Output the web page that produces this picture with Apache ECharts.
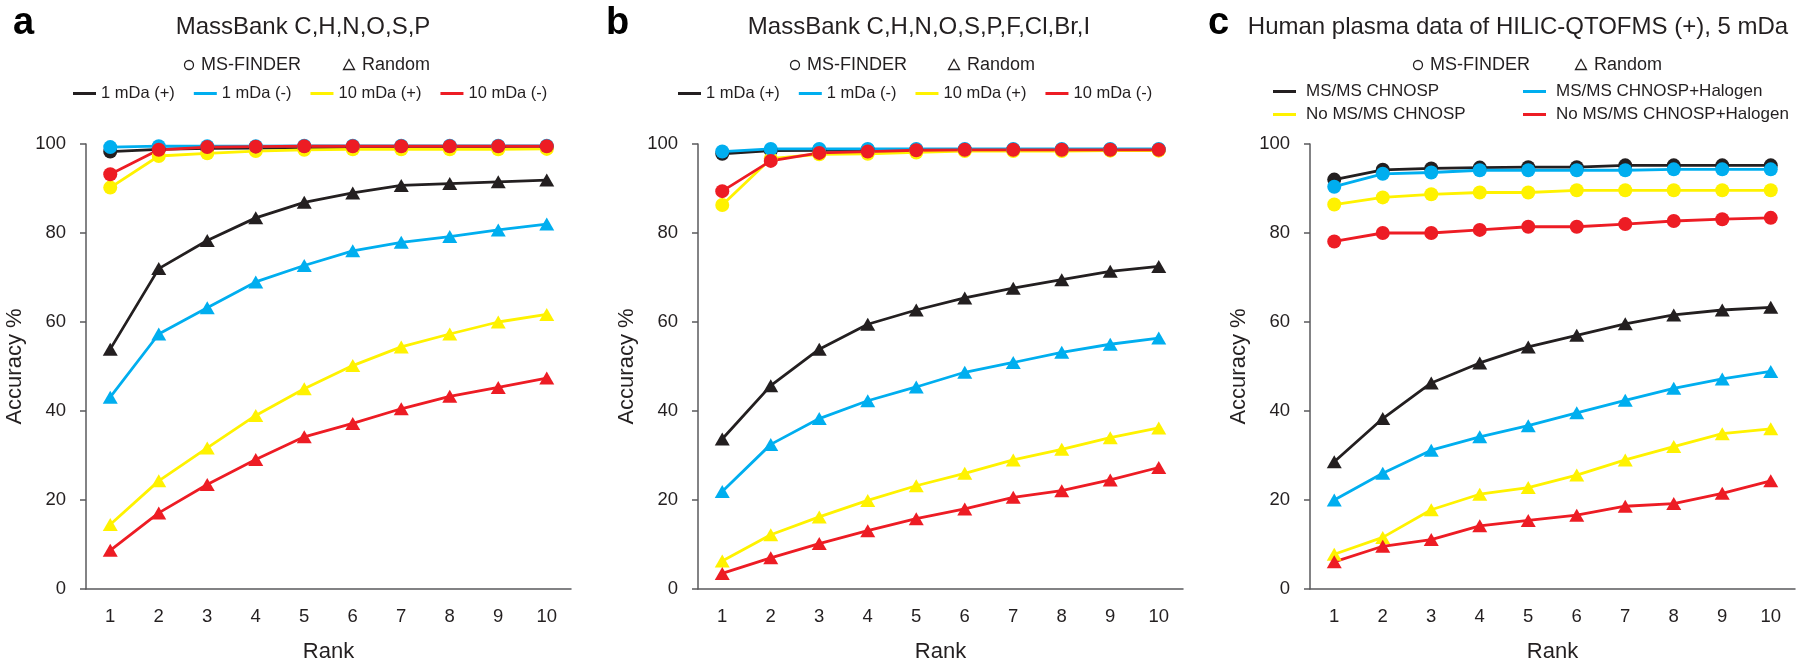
<!DOCTYPE html>
<html>
<head>
<meta charset="utf-8">
<script src="https://cdn.jsdelivr.net/npm/echarts@6/dist/echarts.min.js"></script>
<style>
  html, body { margin: 0; padding: 0; background: #ffffff; }
  #chart { width: 1800px; height: 668px; }
</style>
</head>
<body>
<div id="chart"></div>
<script>
// ---------- data ----------
const ranks = ['1', '2', '3', '4', '5', '6', '7', '8', '9', '10'];

// Panel a: MassBank C,H,N,O,S,P
const aFinder1mDaPos  = [98.3, 98.8, 99.0, 99.1, 99.2, 99.2, 99.3, 99.3, 99.3, 99.3];
const aFinder1mDaNeg  = [99.3, 99.5, 99.5, 99.5, 99.6, 99.6, 99.6, 99.6, 99.6, 99.6];
const aFinder10mDaPos = [90.2, 97.3, 97.9, 98.4, 98.7, 98.8, 98.8, 98.8, 98.8, 98.9];
const aFinder10mDaNeg = [93.2, 98.7, 99.3, 99.4, 99.5, 99.5, 99.5, 99.5, 99.5, 99.5];
const aRandom1mDaPos  = [53.9, 72.0, 78.3, 83.4, 86.9, 89.0, 90.7, 91.1, 91.5, 91.9];
const aRandom1mDaNeg  = [43.1, 57.3, 63.2, 69.0, 72.7, 76.0, 77.9, 79.2, 80.7, 82.0];
const aRandom10mDaPos = [14.5, 24.3, 31.7, 39.0, 45.0, 50.2, 54.4, 57.3, 60.0, 61.7];
const aRandom10mDaNeg = [8.7, 17.1, 23.5, 29.1, 34.2, 37.2, 40.5, 43.3, 45.3, 47.4];

// Panel b: MassBank C,H,N,O,S,P,F,Cl,Br,I
const bFinder1mDaPos  = [97.8, 98.5, 98.6, 98.7, 98.7, 98.7, 98.7, 98.7, 98.7, 98.7];
const bFinder1mDaNeg  = [98.3, 98.9, 98.9, 98.9, 98.9, 98.9, 98.9, 98.9, 98.9, 98.9];
const bFinder10mDaPos = [86.3, 96.7, 97.7, 97.8, 98.1, 98.4, 98.4, 98.4, 98.5, 98.5];
const bFinder10mDaNeg = [89.4, 96.2, 98.0, 98.3, 98.6, 98.7, 98.7, 98.7, 98.7, 98.7];
const bRandom1mDaPos  = [33.7, 45.7, 53.9, 59.5, 62.7, 65.4, 67.6, 69.5, 71.4, 72.5];
const bRandom1mDaNeg  = [21.9, 32.5, 38.3, 42.3, 45.4, 48.7, 50.9, 53.2, 55.0, 56.4];
const bRandom10mDaPos = [6.3, 12.2, 16.2, 19.9, 23.2, 26.0, 29.0, 31.4, 34.0, 36.2];
const bRandom10mDaNeg = [3.5, 7.0, 10.2, 13.1, 15.8, 18.0, 20.6, 22.1, 24.5, 27.3];

// Panel c: Human plasma data of HILIC-QTOFMS (+), 5 mDa
const cFinderMsmsChnosp      = [92.0, 94.2, 94.5, 94.7, 94.8, 94.8, 95.2, 95.2, 95.2, 95.2];
const cFinderMsmsHalogen     = [90.4, 93.3, 93.6, 94.1, 94.1, 94.1, 94.1, 94.3, 94.3, 94.3];
const cFinderNoMsmsChnosp    = [86.4, 88.0, 88.7, 89.1, 89.1, 89.6, 89.6, 89.6, 89.6, 89.6];
const cFinderNoMsmsHalogen   = [78.1, 80.0, 80.0, 80.7, 81.4, 81.4, 82.0, 82.7, 83.1, 83.4];
const cRandomMsmsChnosp      = [28.6, 38.3, 46.3, 50.8, 54.4, 57.0, 59.6, 61.6, 62.7, 63.3];
const cRandomMsmsHalogen     = [20.0, 26.0, 31.2, 34.2, 36.7, 39.6, 42.4, 45.1, 47.2, 48.9];
const cRandomNoMsmsChnosp    = [7.8, 11.6, 17.8, 21.3, 22.8, 25.6, 29.0, 32.0, 34.9, 36.0];
const cRandomNoMsmsHalogen   = [6.1, 9.6, 11.1, 14.2, 15.4, 16.6, 18.6, 19.2, 21.5, 24.3];

const massBankNames = ['1 mDa (+)', '1 mDa (-)', '10 mDa (+)', '10 mDa (-)'];
const plasmaNames = ['MS/MS CHNOSP', 'MS/MS CHNOSP+Halogen', 'No MS/MS CHNOSP', 'No MS/MS CHNOSP+Halogen'];
const panelTitles = ['MassBank C,H,N,O,S,P', 'MassBank C,H,N,O,S,P,F,Cl,Br,I', 'Human plasma data of HILIC-QTOFMS (+), 5 mDa'];
const panelLetters = ['a', 'b', 'c'];

// ---------- styling ----------
const COLORS = ['#231f20', '#00aeef', '#fff200', '#ed1c24'];
const FONT = '"Liberation Sans", Arial, Helvetica, sans-serif';
const TXT = '#231f20';
const AXIS = '#5a5a5c';

const gridLefts = [86, 698, 1310];
const GRID_W = 485, GRID_TOP = 144, GRID_H = 448;

const chart = echarts.init(document.getElementById('chart'), null, { renderer: 'canvas' });

const grids = gridLefts.map(l => ({ left: l, top: GRID_TOP, width: GRID_W, height: GRID_H, containLabel: false }));

const xAxes = gridLefts.map((l, i) => ({
  type: 'category', gridIndex: i, data: ranks, boundaryGap: true,
  name: 'Rank', nameLocation: 'middle', nameGap: 52,
  nameTextStyle: { fontFamily: FONT, fontSize: 22, color: TXT },
  axisLine: { show: true, lineStyle: { color: AXIS, width: 1.5 } },
  axisTick: { show: false },
  axisLabel: { fontFamily: FONT, fontSize: 18.5, color: TXT, margin: 18 },
  splitLine: { show: false }
}));

const yAxes = gridLefts.map((l, i) => ({
  type: 'value', gridIndex: i, min: 0, max: 100, interval: 20,
  name: 'Accuracy %', nameLocation: 'middle', nameGap: 60, nameRotate: 90,
  nameTextStyle: { fontFamily: FONT, fontSize: 22, color: TXT },
  axisLine: { show: true, lineStyle: { color: AXIS, width: 1.5 } },
  axisTick: { show: true, inside: false, length: 6, lineStyle: { color: AXIS, width: 1.5 } },
  axisLabel: { fontFamily: FONT, fontSize: 18.5, color: TXT, margin: 20 },
  splitLine: { show: false }
}));

function mk(name, data, panel, colorIdx, shape) {
  return {
    type: 'line', name: name, data: data,
    xAxisIndex: panel, yAxisIndex: panel,
    symbol: shape === 'c' ? 'circle' : 'triangle',
    symbolSize: shape === 'c' ? 14 : [15, 13],
    showSymbol: true,
    lineStyle: { color: COLORS[colorIdx], width: 2.8 },
    itemStyle: { color: COLORS[colorIdx] },
    emphasis: { disabled: true },
    animation: false
  };
}

const series = [
  // panel a
  mk(massBankNames[0], aRandom1mDaPos, 0, 0, 't'),
  mk(massBankNames[1], aRandom1mDaNeg, 0, 1, 't'),
  mk(massBankNames[2], aRandom10mDaPos, 0, 2, 't'),
  mk(massBankNames[3], aRandom10mDaNeg, 0, 3, 't'),
  mk(massBankNames[0], aFinder1mDaPos, 0, 0, 'c'),
  mk(massBankNames[2], aFinder10mDaPos, 0, 2, 'c'),
  mk(massBankNames[1], aFinder1mDaNeg, 0, 1, 'c'),
  mk(massBankNames[3], aFinder10mDaNeg, 0, 3, 'c'),
  // panel b
  mk(massBankNames[0], bRandom1mDaPos, 1, 0, 't'),
  mk(massBankNames[1], bRandom1mDaNeg, 1, 1, 't'),
  mk(massBankNames[2], bRandom10mDaPos, 1, 2, 't'),
  mk(massBankNames[3], bRandom10mDaNeg, 1, 3, 't'),
  mk(massBankNames[0], bFinder1mDaPos, 1, 0, 'c'),
  mk(massBankNames[2], bFinder10mDaPos, 1, 2, 'c'),
  mk(massBankNames[1], bFinder1mDaNeg, 1, 1, 'c'),
  mk(massBankNames[3], bFinder10mDaNeg, 1, 3, 'c'),
  // panel c
  mk(plasmaNames[0], cRandomMsmsChnosp, 2, 0, 't'),
  mk(plasmaNames[1], cRandomMsmsHalogen, 2, 1, 't'),
  mk(plasmaNames[2], cRandomNoMsmsChnosp, 2, 2, 't'),
  mk(plasmaNames[3], cRandomNoMsmsHalogen, 2, 3, 't'),
  mk(plasmaNames[0], cFinderMsmsChnosp, 2, 0, 'c'),
  mk(plasmaNames[1], cFinderMsmsHalogen, 2, 1, 'c'),
  mk(plasmaNames[2], cFinderNoMsmsChnosp, 2, 2, 'c'),
  mk(plasmaNames[3], cFinderNoMsmsHalogen, 2, 3, 'c')
];

const legendBase = {
  icon: 'rect', itemWidth: 23, itemHeight: 3, padding: 0, selectedMode: false,
  textStyle: { fontFamily: FONT, fontSize: 16.5, color: TXT }
};

const legends = [
  Object.assign({}, legendBase, { data: massBankNames, left: 73, top: 85, itemGap: 19 }),
  Object.assign({}, legendBase, { data: massBankNames, left: 678, top: 85, itemGap: 19 }),
  Object.assign({}, legendBase, { data: [plasmaNames[0], plasmaNames[2]], orient: 'vertical', left: 1273, top: 83, itemGap: 6,
    textStyle: { fontFamily: FONT, fontSize: 17, color: TXT, padding: [0, 0, 0, 5] } }),
  Object.assign({}, legendBase, { data: [plasmaNames[1], plasmaNames[3]], orient: 'vertical', left: 1523, top: 83, itemGap: 6,
    textStyle: { fontFamily: FONT, fontSize: 17, color: TXT, padding: [0, 0, 0, 5] } })
];

// header texts and symbol keys
const titleCenters = [303, 919, 1518];
const letterX = [13, 606, 1208];
const keyPos = [ // [circleX, finderTextX, triangleX, randomTextX]
  [189, 201, 349, 362],
  [795, 807, 954, 967],
  [1418, 1430, 1581, 1594]
];
const graphics = [];
panelTitles.forEach((t, i) => {
  graphics.push({ type: 'text', x: titleCenters[i], y: 27,
    style: { text: t, fontFamily: FONT, fontSize: 24, fill: TXT, align: 'center', verticalAlign: 'middle' } });
  graphics.push({ type: 'text', x: letterX[i], y: 24,
    style: { text: panelLetters[i], fontFamily: FONT, fontSize: 38, fontWeight: 'bold', fill: '#000', align: 'left', verticalAlign: 'middle' } });
  const k = keyPos[i];
  graphics.push({ type: 'circle', shape: { cx: k[0], cy: 65, r: 4.5 }, style: { fill: 'none', stroke: TXT, lineWidth: 1.3 } });
  graphics.push({ type: 'text', x: k[1], y: 65,
    style: { text: 'MS-FINDER', fontFamily: FONT, fontSize: 18, fill: TXT, align: 'left', verticalAlign: 'middle' } });
  graphics.push({ type: 'polygon', shape: { points: [[k[2], 59.5], [k[2] - 5.5, 69.5], [k[2] + 5.5, 69.5]] }, style: { fill: 'none', stroke: TXT, lineWidth: 1.3 } });
  graphics.push({ type: 'text', x: k[3], y: 65,
    style: { text: 'Random', fontFamily: FONT, fontSize: 18, fill: TXT, align: 'left', verticalAlign: 'middle' } });
});

chart.setOption({
  animation: false,
  backgroundColor: '#ffffff',
  grid: grids,
  xAxis: xAxes,
  yAxis: yAxes,
  legend: legends,
  series: series,
  graphic: graphics
});
</script>
</body>
</html>
